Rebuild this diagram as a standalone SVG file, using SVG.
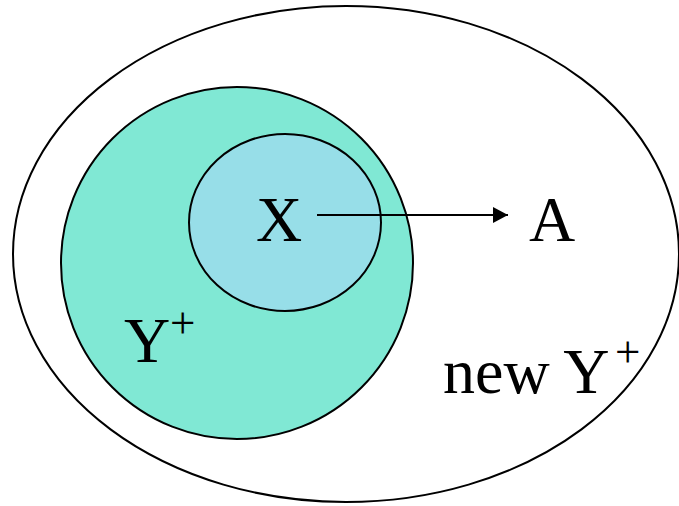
<svg xmlns="http://www.w3.org/2000/svg" width="679" height="506" viewBox="0 0 679 506">
<style>
.sh{stroke:#000;stroke-width:2}
.t{font-family:"Liberation Serif","Times New Roman",serif;fill:#000}
.big{font-size:64px}
.sup{font-size:45px}
</style>
<defs>
<marker id="ah" markerWidth="15" markerHeight="16" refX="15" refY="8" orient="auto" markerUnits="userSpaceOnUse">
<path d="M0,0 L15,8 L0,16 Z" fill="#000"/>
</marker>
</defs>
<rect width="679" height="506" fill="#fff"/>
<g id="newYplus">
<ellipse cx="346" cy="254" rx="333" ry="248" fill="#fff" class="sh"/>
<text class="t big" x="443" y="393">new Y</text>
<text class="t sup" x="615" y="367">+</text>
</g>
<g id="Yplus">
<ellipse cx="237" cy="263" rx="176" ry="176" fill="#80E8D4" class="sh"/>
<text class="t big" x="124" y="362">Y</text>
<text class="t sup" x="170" y="338">+</text>
</g>
<g id="X">
<ellipse cx="285" cy="222.5" rx="96" ry="88.5" fill="#97DEE8" class="sh"/>
<text class="t big" x="256" y="241">X</text>
</g>
<g id="A">
<text class="t big" x="529" y="241">A</text>
</g>
<g id="connectors">
<line x1="317" y1="215" x2="508" y2="215" stroke="#000" stroke-width="2" marker-end="url(#ah)"/>
</g>
</svg>
